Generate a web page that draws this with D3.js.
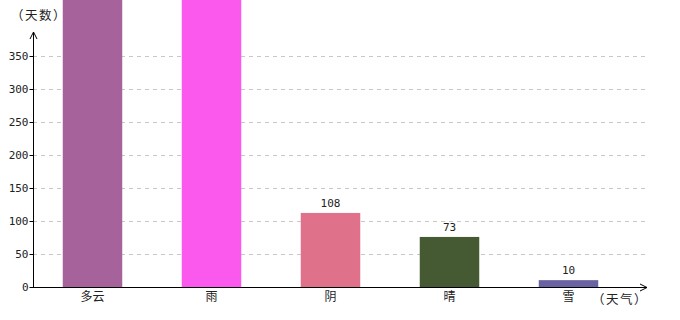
<!DOCTYPE html>
<html><head><meta charset="utf-8">
<script src="https://cdn.jsdelivr.net/npm/d3@7"></script>
<style>body{margin:0;background:#fff}svg{display:block}text{font-family:"DejaVu Sans Mono","Noto Sans CJK SC",monospace;}</style>
</head><body>
<svg id="c" width="680" height="320"></svg>
<script>
const categories = ["多云","雨","阴","晴","雪"];
const values = [520, 480, 108, 73, 10];
const colors = ["#a6639b","#fb58ee","#e0718a","#455a32","#6a63a3"];
const yTicks = [0,50,100,150,200,250,300,350];
const yTitle = "（天数）";
const xTitle = "（天气）";

const svg = d3.select("#c");
const x0 = 33, x1 = 628, y0 = 287;
const x = d3.scaleBand().domain(categories).range([x0, x1]).paddingInner(0.5).paddingOuter(0.25);
// axis/grid scale
const y = d3.scaleLinear().domain([0, 350]).range([y0, 56]);
// bar scale (the original chart draws bars slightly taller than the grid)
const yb = d3.scaleLinear().domain([0, 350]).range([y0, 47]);

// grid
svg.append("g").selectAll("line").data(yTicks.filter(d=>d>0)).join("line")
  .attr("x1", x0).attr("x2", 646).attr("y1", d=>y(d)+0.5).attr("y2", d=>y(d)+0.5)
  .attr("stroke", "#c8c8c8").attr("stroke-dasharray", "4,4");

// bars
svg.append("g").selectAll("rect").data(categories).join("rect")
  .attr("x", d=>x(d)).attr("width", x.bandwidth())
  .attr("y", (d,i)=>yb(values[i])).attr("height", (d,i)=>y0 - yb(values[i]))
  .attr("fill", (d,i)=>colors[i]);

// value labels (those above the visible area are clipped in the original)
const visible = categories.map((c,i)=>({c, v: values[i]})).filter(d=>yb(d.v)-6 > 12);
svg.append("g").selectAll("text").data(visible).join("text")
  .attr("x", d=>x(d.c)+x.bandwidth()/2).attr("y", d=>yb(d.v)-6)
  .attr("text-anchor","middle").attr("font-size", 11).attr("fill","#222")
  .text(d=>d.v);

// y axis
const yAxis = d3.axisLeft(y).tickValues(yTicks).tickSize(4).tickPadding(1);
const gy = svg.append("g").attr("transform", `translate(${x0+0.5},0)`).call(yAxis);
gy.select(".domain").remove();
gy.selectAll("text").attr("font-size", 11).attr("fill","#222")
  .style("font-family",'"DejaVu Sans Mono",monospace');
gy.selectAll(".tick line").attr("stroke","#000");
svg.append("line").attr("x1", x0+0.5).attr("x2", x0+0.5).attr("y1", y0).attr("y2", 32).attr("stroke","#000");
svg.append("path").attr("d", `M${x0+0.5-3.5},${39} L${x0+0.5},${32} L${x0+0.5+3.5},${39}`).attr("fill","none").attr("stroke","#000");

// x axis
svg.append("line").attr("x1", x0).attr("x2", 647).attr("y1", y0+0.5).attr("y2", y0+0.5).attr("stroke","#000");
svg.append("path").attr("d", `M640,${y0+0.5-3.5} L647,${y0+0.5} L640,${y0+0.5+3.5}`).attr("fill","none").attr("stroke","#000");
svg.append("g").selectAll("text").data(categories).join("text")
  .attr("x", d=>x(d)+x.bandwidth()/2).attr("y", 301)
  .attr("text-anchor","middle").attr("font-size", 12).attr("fill","#222")
  .style("font-family",'"Noto Sans CJK SC",sans-serif')
  .text(d=>d);

svg.append("text").attr("x", 11).attr("y", 20).attr("font-size", 12.5).attr("fill","#222")
  .style("letter-spacing","1.5px")
  .style("font-family",'"Noto Sans CJK SC",sans-serif').text(yTitle);
svg.append("text").attr("x", 592).attr("y", 304).attr("font-size", 12.5).attr("fill","#222")
  .style("letter-spacing","1.5px")
  .style("font-family",'"Noto Sans CJK SC",sans-serif').text(xTitle);
</script>
</body></html>
